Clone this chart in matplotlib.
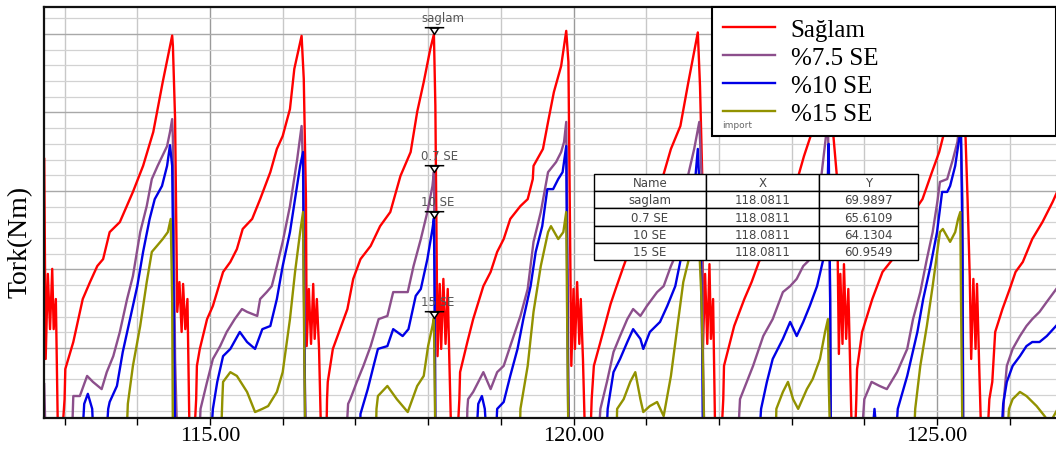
import matplotlib
matplotlib.use('Agg')
import matplotlib.pyplot as plt
from matplotlib.path import Path
from matplotlib.ticker import MultipleLocator, FuncFormatter

# torque traces (time, Nm)
sag_x = [112.72, 112.74, 112.77, 112.80, 112.83, 112.85, 112.88, 112.91, 112.96,
         113.00, 113.01, 113.12, 113.25, 113.35, 113.45, 113.53, 113.62, 113.76, 113.94, 114.08, 114.22, 114.35, 114.48,
         114.49, 114.52, 114.55, 114.58, 114.61, 114.63, 114.66, 114.69, 114.70, 114.72, 114.78,
         114.81, 114.82, 114.86, 114.96, 115.04, 115.18, 115.28, 115.37, 115.45, 115.58, 115.69, 115.83, 115.92, 116.00, 116.10, 116.16, 116.26,
         116.29, 116.32, 116.33, 116.36, 116.39, 116.42, 116.44, 116.47, 116.50, 116.53, 116.60,
         116.61, 116.62, 116.69, 116.79, 116.89, 116.97, 117.07, 117.21, 117.34, 117.48, 117.62, 117.76, 117.85, 117.94, 118.03, 118.08,
         118.10, 118.13, 118.16, 118.18, 118.21, 118.24, 118.27, 118.29, 118.32, 118.40,
         118.43, 118.44, 118.54, 118.62, 118.76, 118.86, 118.95, 119.04, 119.13, 119.27, 119.37, 119.44, 119.45, 119.58, 119.65, 119.73, 119.83, 119.90,
         119.93, 119.94, 119.97, 120.00, 120.02, 120.05, 120.08, 120.10, 120.13, 120.16, 120.23,
         120.25, 120.28, 120.37, 120.51, 120.58, 120.69, 120.85, 120.99, 121.13, 121.24, 121.34, 121.47, 121.58, 121.71,
         121.74, 121.77, 121.78, 121.81, 121.84, 121.87, 121.89, 121.92, 121.95, 122.03,
         122.06, 122.07, 122.21, 122.35, 122.45, 122.55, 122.70, 122.87, 123.01, 123.10, 123.17, 123.28, 123.42, 123.53,
         123.57, 123.62, 123.65, 123.67, 123.70, 123.72, 123.75, 123.78, 123.80, 123.83, 123.87,
         123.89, 123.90, 123.97, 124.11, 124.25, 124.39, 124.52, 124.66, 124.80, 124.93, 125.03, 125.10, 125.24, 125.35,
         125.39, 125.42, 125.45, 125.47, 125.50, 125.53, 125.55, 125.58, 125.61, 125.69,
         125.72, 125.76, 125.80, 125.90, 126.00, 126.08, 126.18, 126.31, 126.45, 126.59, 126.70]
sag_y = [66.02, 59.65, 62.36, 60.60, 62.52, 60.60, 61.56, 57.0, 57.0,
         58.37, 59.33, 60.19, 61.56, 62.10, 62.61, 62.83, 63.69, 64.01, 64.97, 65.80, 66.88, 68.47, 69.95,
         69.62, 67.29, 61.15, 62.10, 60.51, 62.04, 60.60, 61.56, 59.97, 57.0, 57.0,
         58.37, 59.43, 59.97, 60.92, 61.34, 62.42, 62.74, 63.15, 63.79, 64.11, 64.74, 65.60, 66.34, 66.75, 67.61, 68.89, 69.94,
         68.57, 64.74, 60.06, 61.88, 60.13, 62.04, 60.29, 61.56, 59.97, 57.0, 57.0,
         58.37, 58.92, 59.97, 60.60, 61.24, 62.20, 62.83, 63.25, 63.88, 64.33, 65.48, 66.24, 67.52, 68.47, 69.52, 69.99,
         67.71, 59.74, 62.04, 59.97, 62.20, 60.13, 61.88, 59.81, 57.0, 57.0,
         58.37, 59.23, 60.19, 60.92, 61.97, 62.42, 63.06, 63.47, 64.11, 64.52, 64.74, 65.38, 65.80, 66.34, 67.20, 68.15, 68.98, 70.10,
         69.11, 66.66, 59.43, 61.88, 59.97, 62.10, 60.13, 61.56, 59.65, 57.0, 57.0,
         58.37, 59.43, 60.19, 61.40, 61.88, 62.61, 63.63, 64.43, 65.06, 65.54, 66.34, 67.07, 68.47, 70.05,
         68.34, 65.54, 59.97, 62.36, 60.13, 62.67, 60.29, 61.56, 57.0, 57.0,
         58.37, 59.43, 60.70, 61.56, 62.10, 62.74, 63.47, 64.43, 65.06, 65.54, 66.11, 66.88, 68.57, 69.95,
         66.88, 65.54, 59.81, 62.36, 60.13, 62.67, 60.29, 61.88, 59.97, 57.0, 57.0,
         58.37, 59.33, 60.51, 61.56, 62.42, 62.83, 63.47, 64.27, 64.74, 65.60, 66.24, 66.88, 68.57, 69.95,
         66.88, 64.74, 62.29, 59.65, 62.20, 59.97, 62.04, 59.43, 57.0, 57.0,
         58.37, 58.92, 60.51, 61.24, 61.88, 62.42, 62.74, 63.47, 64.01, 64.65, 65.22]

se75_x = [112.72, 112.74,
          113.10, 113.12, 113.21, 113.31, 113.39, 113.51, 113.58, 113.67, 113.76, 113.86, 113.94, 114.04, 114.13, 114.20, 114.28, 114.41, 114.45, 114.48, 114.49, 114.52, 114.55,
          114.85, 114.87, 114.96, 115.04, 115.14, 115.23, 115.34, 115.44, 115.51, 115.65, 115.69, 115.78, 115.85, 115.92, 116.00, 116.10, 116.20, 116.26, 116.28, 116.30, 116.32,
          116.87, 116.90, 116.93, 117.02, 117.11, 117.21, 117.32, 117.44, 117.52, 117.72, 117.80, 117.90, 117.99, 118.06, 118.08, 118.09, 118.10,
          118.53, 118.54, 118.55, 118.62, 118.76, 118.86, 118.95, 119.04, 119.13, 119.27, 119.37, 119.45, 119.55, 119.65, 119.76, 119.83, 119.87, 119.90, 119.91, 119.93, 119.94,
          120.34, 120.37, 120.46, 120.55, 120.64, 120.74, 120.82, 120.92, 121.01, 121.15, 121.24, 121.34, 121.37, 121.48, 121.58, 121.66, 121.73, 121.76, 121.77, 121.78, 121.80,
          122.26, 122.29, 122.47, 122.61, 122.74, 122.88, 122.98, 123.07, 123.16, 123.23, 123.32, 123.42, 123.50, 123.53, 123.54,
          123.96, 124.00, 124.10, 124.21, 124.31, 124.45, 124.59, 124.67, 124.77, 124.86, 124.94, 125.01, 125.04, 125.14, 125.22, 125.28, 125.32, 125.35, 125.36,
          125.90, 125.92, 125.96, 126.04, 126.14, 126.23, 126.31, 126.41, 126.51, 126.66]
se75_y = [58.85, 57.0,
          57.0, 58.47, 58.47, 59.11, 58.92, 58.69, 59.23, 59.74, 60.51, 61.56, 62.29, 63.69, 64.52, 65.38, 65.80, 66.43, 66.88, 67.29, 66.66, 59.65, 57.0,
          57.0, 58.06, 58.92, 59.65, 60.06, 60.51, 60.92, 61.24, 61.15, 61.02, 61.56, 61.78, 61.97, 62.61, 63.38, 64.52, 66.02, 67.07, 65.80, 59.65, 57.0,
          57.0, 58.22, 58.37, 58.92, 59.43, 60.06, 60.92, 61.02, 61.78, 61.78, 62.61, 63.47, 64.33, 65.16, 65.61, 63.15, 57.0,
          57.0, 58.06, 58.37, 58.60, 59.23, 58.69, 59.23, 59.43, 60.06, 61.02, 61.88, 63.38, 64.33, 65.60, 65.92, 66.24, 66.56, 67.20, 64.74, 59.01, 57.0,
          57.0, 58.06, 58.92, 59.87, 60.38, 60.92, 61.24, 61.02, 61.34, 61.78, 61.97, 62.61, 62.77, 63.79, 65.54, 66.34, 67.20, 65.54, 62.61, 59.97, 57.0,
          57.0, 58.37, 59.43, 60.38, 60.92, 61.78, 61.97, 62.20, 62.61, 62.77, 63.63, 65.70, 67.29, 61.56, 57.0,
          57.0, 58.37, 58.92, 58.79, 58.69, 59.23, 59.97, 60.92, 61.78, 62.83, 63.69, 64.74, 65.29, 65.38, 66.02, 66.56, 67.30, 64.74, 57.0,
          57.0, 58.37, 59.43, 59.97, 60.38, 60.70, 60.92, 61.15, 61.47, 61.94]

se10_x = [113.24, 113.27, 113.32, 113.38, 113.40, 113.57, 113.60, 113.62, 113.72, 113.80, 113.90, 114.00, 114.08, 114.17, 114.24, 114.34, 114.41, 114.45, 114.48, 114.51, 114.52,
          115.01, 115.04, 115.10, 115.18, 115.28, 115.41, 115.51, 115.62, 115.72, 115.83, 115.92, 116.00, 116.10, 116.17, 116.24, 116.28, 116.29, 116.31,
          117.06, 117.07, 117.17, 117.25, 117.31, 117.44, 117.52, 117.65, 117.73, 117.83, 117.90, 117.99, 118.06, 118.08, 118.09, 118.10,
          118.66, 118.69, 118.74, 118.78, 118.81, 118.93, 118.95, 119.04, 119.13, 119.23, 119.31, 119.41, 119.48, 119.57, 119.64, 119.72, 119.79, 119.85, 119.90, 119.91, 119.93,
          120.45, 120.47, 120.55, 120.64, 120.74, 120.82, 120.92, 120.96, 121.05, 121.19, 121.29, 121.40, 121.47, 121.58, 121.68, 121.71, 121.74, 121.77, 121.78,
          122.55, 122.58, 122.66, 122.74, 122.88, 122.98, 123.07, 123.16, 123.25, 123.35, 123.43, 123.49, 123.51, 123.53, 123.54,
          124.10, 124.14, 124.18,
          124.43, 124.46, 124.59, 124.73, 124.81, 124.91, 125.00, 125.07, 125.14, 125.18, 125.25, 125.29, 125.33, 125.35, 125.36,
          125.88, 125.91, 125.96, 126.04, 126.14, 126.23, 126.31, 126.41, 126.51, 126.66]
se10_y = [57.0, 58.22, 58.54, 58.06, 57.0, 57.0, 58.06, 58.28, 58.79, 59.87, 60.92, 61.97, 63.06, 64.11, 64.74, 65.16, 65.80, 66.46, 65.80, 59.65, 57.0,
          57.0, 58.06, 58.92, 59.74, 59.97, 60.51, 60.19, 59.97, 60.60, 60.70, 61.56, 62.61, 63.69, 64.74, 65.80, 66.24, 63.15, 57.0,
          57.0, 57.90, 58.69, 59.43, 59.97, 60.06, 60.60, 60.38, 60.60, 61.66, 61.88, 62.83, 63.79, 64.13, 61.56, 57.0,
          57.0, 58.22, 58.47, 58.06, 57.0, 57.0, 58.06, 58.28, 59.11, 59.97, 60.92, 61.97, 63.06, 63.88, 65.06, 65.06, 65.38, 65.60, 66.43, 63.15, 57.0,
          57.0, 58.06, 59.23, 59.65, 60.19, 60.60, 60.29, 59.97, 60.51, 60.83, 61.34, 61.97, 62.77, 64.11, 65.54, 66.34, 64.74, 59.97, 57.0,
          57.0, 58.06, 58.92, 59.65, 60.29, 60.83, 60.38, 60.83, 61.34, 61.97, 62.77, 64.74, 66.50, 61.56, 57.0,
          57.0, 58.06, 57.0,
          57.0, 58.06, 59.11, 60.51, 61.56, 62.61, 63.69, 64.97, 64.97, 65.16, 65.80, 66.43, 67.00, 63.15, 57.0,
          57.0, 58.22, 58.92, 59.43, 59.74, 60.06, 60.19, 60.19, 60.38, 60.76]

se15_x = [113.85, 113.87, 113.94, 114.04, 114.13, 114.20, 114.27, 114.35, 114.42, 114.46, 114.48, 114.49,
          115.15, 115.17, 115.18, 115.28, 115.37, 115.51, 115.62, 115.72, 115.80, 115.92, 116.00, 116.10, 116.17, 116.24, 116.28, 116.29, 116.31,
          117.28, 117.29, 117.31, 117.44, 117.57, 117.72, 117.85, 117.94, 118.00, 118.06, 118.08, 118.09, 118.10,
          119.26, 119.27, 119.37, 119.45, 119.55, 119.65, 119.69, 119.79, 119.86, 119.90, 119.91, 119.93,
          120.59, 120.60, 120.69, 120.78, 120.85, 120.92, 120.96, 121.05, 121.15, 121.24, 121.34, 121.43, 121.51, 121.58, 121.65, 121.71, 121.76, 121.78, 121.80,
          122.78, 122.79, 122.88, 122.95, 123.02, 123.09, 123.21, 123.29, 123.39, 123.46, 123.50, 123.51, 123.53,
          124.68, 124.70, 124.77, 124.86, 124.94, 125.04, 125.08, 125.18, 125.25, 125.29, 125.32, 125.33, 125.35,
          125.96, 125.99, 126.04, 126.14, 126.23, 126.37, 126.48, 126.55, 126.66]
se15_y = [57.0, 58.22, 59.43, 60.70, 62.10, 63.06, 63.25, 63.47, 63.69, 64.11, 61.56, 57.0,
          57.0, 58.37, 58.92, 59.23, 59.11, 58.60, 57.96, 58.06, 58.15, 58.60, 59.23, 60.92, 62.42, 63.69, 64.33, 61.56, 57.0,
          57.0, 58.06, 58.47, 58.79, 58.37, 57.96, 58.79, 59.11, 60.06, 60.70, 60.95, 59.01, 57.0,
          57.0, 58.06, 59.43, 61.15, 62.61, 63.69, 63.88, 63.47, 63.69, 64.33, 61.56, 57.0,
          57.0, 58.06, 58.37, 58.92, 59.23, 58.37, 57.96, 58.15, 58.28, 57.83, 59.11, 60.70, 62.10, 62.77, 63.63, 64.27, 61.56, 59.43, 57.0,
          57.0, 58.06, 58.60, 58.92, 58.37, 58.06, 58.69, 59.01, 59.65, 60.51, 60.92, 59.01, 57.0,
          57.0, 58.06, 59.43, 60.70, 61.97, 63.69, 63.79, 63.38, 63.69, 64.11, 64.33, 61.56, 57.0,
          57.0, 58.06, 58.37, 58.60, 58.47, 58.15, 57.83, 57.60, 58.06]

series_names = ['Sağlam', '%7.5 SE', '%10 SE', '%15 SE']
series_colors = ['#ff0000', '#8c4f8c', '#0000e6', '#929200']

# marker readout at t = 118.0811
mark_x = 118.0811
mark_names = ['saglam', '0.7 SE', '10 SE', '15 SE']
mark_vals = [69.9897, 65.6109, 64.1304, 60.9549]

serif = ['Liberation Serif', 'DejaVu Serif']

fig = plt.figure(figsize=(10.56, 4.52), dpi=100)
ax = fig.add_axes([44 / 1056, 33 / 452, 1014 / 1056, 411 / 452])

xs = [sag_x, se75_x, se10_x, se15_x]
ys = [sag_y, se75_y, se10_y, se15_y]
for i in range(4):
    ax.plot(xs[i], ys[i], color=series_colors[i], lw=1.7, label=series_names[i], zorder=2 + i * 0.1)

ax.set_xlim(112.717, 126.664)
ax.set_ylim(57.77, 70.86)

# grid
ax.xaxis.set_major_locator(MultipleLocator(5))
ax.xaxis.set_minor_locator(MultipleLocator(1))
ax.xaxis.set_major_formatter(FuncFormatter(lambda v, p: '%.2f' % v))
ax.yaxis.set_major_locator(MultipleLocator(2.5))
ax.yaxis.set_minor_locator(MultipleLocator(0.5))
ax.set_axisbelow(True)
ax.grid(which='major', axis='x', color='#9a9a9a', lw=1.0)
ax.grid(which='minor', axis='x', color='#c8c8c8', lw=1.0)
ax.grid(which='major', axis='y', color='#a8a8a8', lw=1.0)
ax.grid(which='minor', axis='y', color='#d2d2d2', lw=0.9)

ax.tick_params(axis='x', which='both', direction='out', length=5, width=1, color='black', pad=1)
ax.tick_params(axis='y', which='both', length=0, labelleft=False)
for lab in ax.get_xticklabels():
    lab.set_family(serif)
    lab.set_fontsize(16)

for s in ['top', 'left', 'bottom']:
    ax.spines[s].set_linewidth(1.6)
    ax.spines[s].set_color('#111111')
ax.spines['right'].set_visible(False)

ax.set_ylabel('Tork(Nm)', family=serif, fontsize=20)
ax.yaxis.set_label_coords(-0.011, 0.43)

# marker symbols (triangle with a bar on top, tip on the value)
tri = Path([(-0.45, 0.7), (0, 0), (0.45, 0.7), (-0.45, 0.7), (-1, 0.7), (1, 0.7)],
           [Path.MOVETO, Path.LINETO, Path.LINETO, Path.CLOSEPOLY, Path.MOVETO, Path.LINETO])
ax.plot([mark_x] * 4, mark_vals, ls='none', marker=tri, markersize=14,
        mfc='white', mec='black', mew=1.1, zorder=4)
for nm, v in zip(mark_names, mark_vals):
    ax.annotate(nm, (mark_x, v), xytext=(-9, 12), textcoords='offset points',
                ha='left', va='center', fontsize=8.5, color='#555555', zorder=4)

# readout table
rows = [[n, '%.4f' % mark_x, '%.4f' % v] for n, v in zip(mark_names, mark_vals)]
tab = ax.table(cellText=rows, colLabels=['Name', 'X', 'Y'], cellLoc='center',
               colWidths=[112, 113, 99],
               bbox=[(594 - 44) / 1014, (419 - 261) / 411, 324 / 1014, 86 / 411])
tab.auto_set_font_size(False)
tab.set_fontsize(8.5)
tab.set_zorder(5)
for (r, c), cell in tab.get_celld().items():
    cell.set_edgecolor('black')
    cell.set_linewidth(1.0)
    cell.set_facecolor('white')
    cell.get_text().set_color('#444444')

leg = ax.legend(loc='upper left', bbox_to_anchor=((712 - 44) / 1014, 1.0, (1056 - 712) / 1014, 0.0),
                mode='expand', borderaxespad=0, fancybox=False, framealpha=1, edgecolor='black',
                prop={'family': serif, 'size': 18}, handlelength=2.05, handletextpad=0.65,
                labelspacing=0.22, borderpad=0.45)
leg.get_frame().set_linewidth(1.5)
leg.set_zorder(6)
fig.text(722 / 1056, 1 - 126 / 452, 'import', fontsize=6.5, color='#666666', va='center', zorder=7)

fig.savefig('out.png', dpi=100)
